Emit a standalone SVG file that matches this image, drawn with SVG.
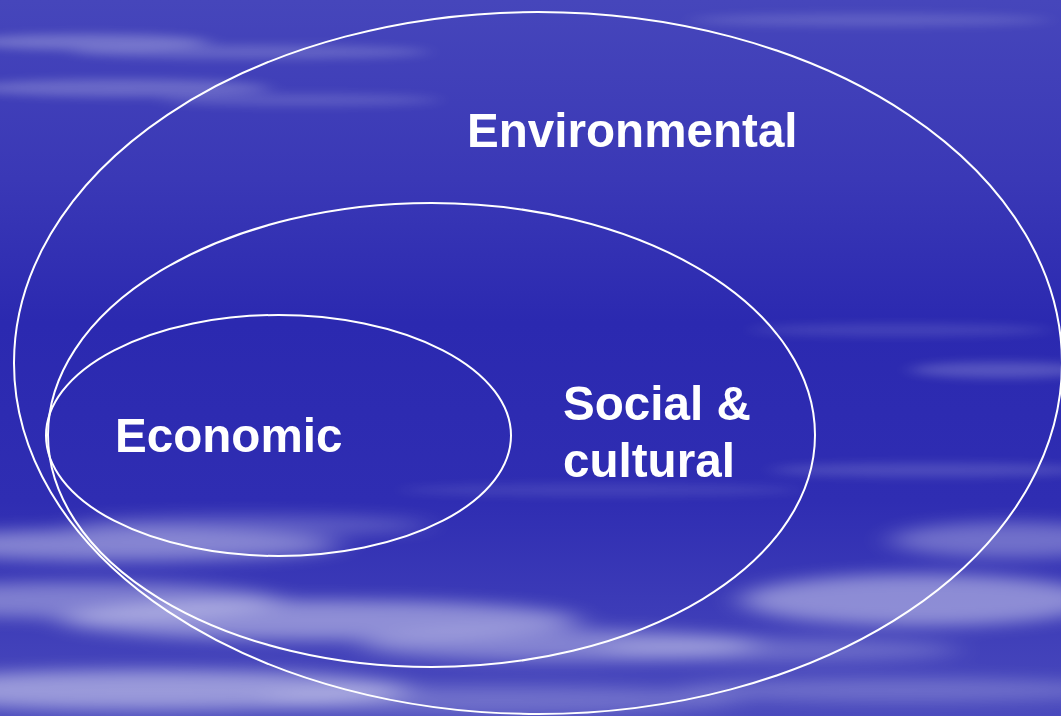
<svg xmlns="http://www.w3.org/2000/svg" width="1061" height="716" viewBox="0 0 1061 716">
<defs>
<linearGradient id="bg" x1="0" y1="0" x2="0" y2="1">
<stop offset="0" stop-color="#4646bb"/>
<stop offset="0.25" stop-color="#3a38b6"/>
<stop offset="0.45" stop-color="#2b29b0"/>
<stop offset="0.7" stop-color="#2f2db2"/>
<stop offset="1" stop-color="#4a4abd"/>
</linearGradient>
<filter id="blur" x="-20%" y="-200%" width="140%" height="500%">
<feGaussianBlur stdDeviation="10 5"/>
</filter>
<filter id="blur2" x="-20%" y="-200%" width="140%" height="500%">
<feGaussianBlur stdDeviation="16 8"/>
</filter>
<style>
.ring{fill:none;stroke:#ffffff;stroke-width:2}
.lbl{font-family:"Liberation Sans",Arial,sans-serif;font-weight:bold;font-size:47.6px;fill:#ffffff}
</style>
</defs>
<g id="background">
<rect width="1061" height="716" fill="url(#bg)"/>
<g fill="#ffffff" filter="url(#blur)">
<ellipse cx="90" cy="42" rx="120" ry="8" opacity="0.25"/>
<ellipse cx="250" cy="52" rx="180" ry="7" opacity="0.18"/>
<ellipse cx="120" cy="88" rx="150" ry="9" opacity="0.22"/>
<ellipse cx="300" cy="100" rx="140" ry="6" opacity="0.15"/>
<ellipse cx="870" cy="20" rx="180" ry="6" opacity="0.15"/>
<ellipse cx="900" cy="330" rx="150" ry="6" opacity="0.12"/>
<ellipse cx="1000" cy="370" rx="90" ry="8" opacity="0.2"/>
<ellipse cx="930" cy="470" rx="160" ry="7" opacity="0.15"/>
<ellipse cx="600" cy="490" rx="200" ry="6" opacity="0.1"/>
</g>
<g fill="#ffffff" filter="url(#blur2)">
<ellipse cx="120" cy="545" rx="220" ry="16" opacity="0.4"/>
<ellipse cx="250" cy="525" rx="180" ry="10" opacity="0.22"/>
<ellipse cx="80" cy="600" rx="200" ry="18" opacity="0.35"/>
<ellipse cx="320" cy="620" rx="260" ry="20" opacity="0.42"/>
<ellipse cx="560" cy="645" rx="200" ry="16" opacity="0.35"/>
<ellipse cx="150" cy="690" rx="260" ry="20" opacity="0.45"/>
<ellipse cx="500" cy="700" rx="240" ry="14" opacity="0.22"/>
<ellipse cx="920" cy="600" rx="180" ry="26" opacity="0.42"/>
<ellipse cx="1010" cy="540" rx="120" ry="18" opacity="0.3"/>
<ellipse cx="780" cy="650" rx="180" ry="12" opacity="0.22"/>
<ellipse cx="900" cy="690" rx="220" ry="12" opacity="0.22"/>
</g>
</g>
<g id="environmental">
<ellipse class="ring" cx="538" cy="363" rx="524" ry="351"/>
<text class="lbl" x="467" y="147">Environmental</text>
</g>
<g id="social">
<ellipse class="ring" cx="431.5" cy="435" rx="383.5" ry="232"/>
<text class="lbl" x="563" y="420">Social &amp;</text>
<text class="lbl" x="563" y="477">cultural</text>
</g>
<g id="economic">
<ellipse class="ring" cx="278.5" cy="435.5" rx="232.5" ry="120.5"/>
<text class="lbl" x="115" y="452">Economic</text>
</g>
<g id="connectors"/>
</svg>
